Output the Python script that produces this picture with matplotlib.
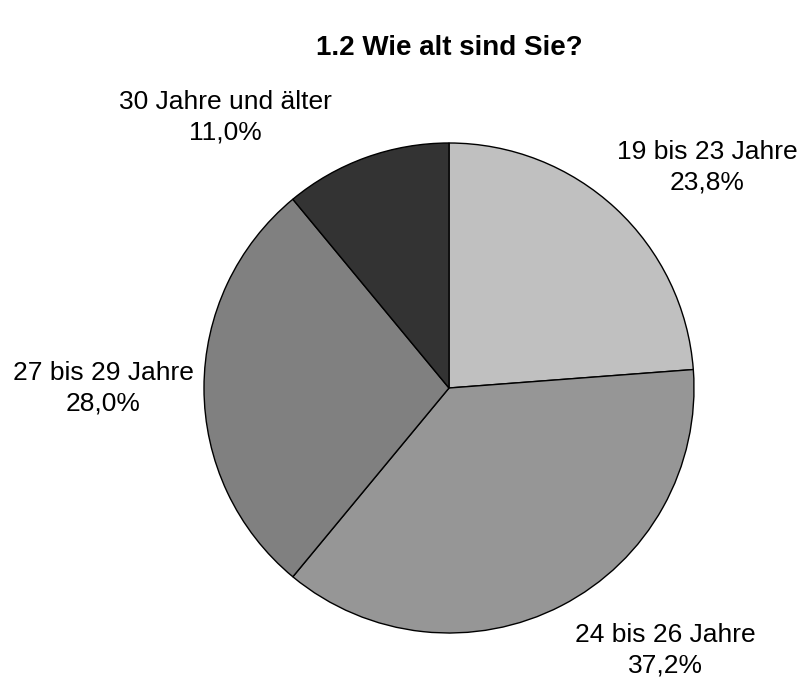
import matplotlib
matplotlib.use("Agg")
import matplotlib.pyplot as plt

categories = ["19 bis 23 Jahre", "24 bis 26 Jahre", "27 bis 29 Jahre", "30 Jahre und älter"]
values = [23.8, 37.2, 28.0, 11.0]
pct_labels = ["23,8%", "37,2%", "28,0%", "11,0%"]
colors = ["#c0c0c0", "#969696", "#808080", "#333333"]
title = "1.2 Wie alt sind Sie?"

plt.rcParams['font.family'] = ['Liberation Sans', 'DejaVu Sans']

W, H = 808, 679
fig = plt.figure(figsize=(W / 100, H / 100), dpi=100)
cx, cy, r = 449, 388, 245
ax = fig.add_axes([(cx - r) / W, (H - cy - r) / H, 2 * r / W, 2 * r / H])
ax.pie(values, colors=colors, startangle=90, counterclock=False, radius=1.0,
       wedgeprops=dict(edgecolor="black", linewidth=1.0))
ax.set_xlim(-1, 1)
ax.set_ylim(-1, 1)
ax.set_aspect("equal")
ax.axis("off")

# label positions (in radius units)
label_pos = [(1.053, 0.902), (0.882, -1.069), (-1.412, 0.0), (-0.914, 1.106)]
for (x, y), c, p in zip(label_pos, categories, pct_labels):
    ax.text(x, y, f"{c}\n{p}", ha="center", va="center", fontsize=19,
            linespacing=1.35, clip_on=False)

fig.text(449 / W, 1 - 48 / H, title, ha="center", va="center",
         fontsize=20, fontweight="bold")

fig.savefig("out.png", dpi=100)
